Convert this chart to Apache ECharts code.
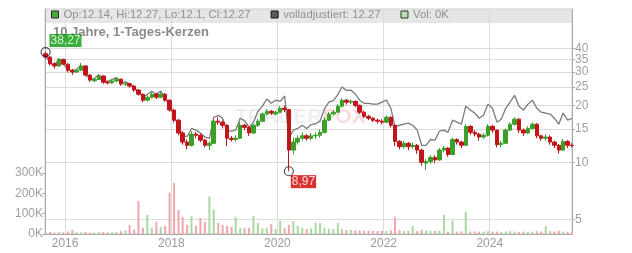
<!DOCTYPE html>
<html><head><meta charset="utf-8">
<script src="https://cdn.jsdelivr.net/npm/echarts@6.0.0/dist/echarts.min.js"></script>
<style>html,body{margin:0;padding:0;background:#fff}#c{width:632px;height:253px}</style>
</head><body><div id="c"></div>
<script>
var months = ['2015-08','2015-09','2015-10','2015-11','2015-12',
'2016-01','2016-02','2016-03','2016-04','2016-05','2016-06','2016-07','2016-08','2016-09','2016-10','2016-11','2016-12',
'2017-01','2017-02','2017-03','2017-04','2017-05','2017-06','2017-07','2017-08','2017-09','2017-10','2017-11','2017-12',
'2018-01','2018-02','2018-03','2018-04','2018-05','2018-06','2018-07','2018-08','2018-09','2018-10','2018-11','2018-12',
'2019-01','2019-02','2019-03','2019-04','2019-05','2019-06','2019-07','2019-08','2019-09','2019-10','2019-11','2019-12',
'2020-01','2020-02','2020-03','2020-04','2020-05','2020-06','2020-07','2020-08','2020-09','2020-10','2020-11','2020-12',
'2021-01','2021-02','2021-03','2021-04','2021-05','2021-06','2021-07','2021-08','2021-09','2021-10','2021-11','2021-12',
'2022-01','2022-02','2022-03','2022-04','2022-05','2022-06','2022-07','2022-08','2022-09','2022-10','2022-11','2022-12',
'2023-01','2023-02','2023-03','2023-04','2023-05','2023-06','2023-07','2023-08','2023-09','2023-10','2023-11','2023-12',
'2024-01','2024-02','2024-03','2024-04','2024-05','2024-06','2024-07','2024-08','2024-09','2024-10','2024-11','2024-12',
'2025-01','2025-02','2025-03','2025-04','2025-05','2025-06','2025-07'];

var opens = [37.5,36.0,33.2,32.3,35.0,33.0,30.7,30.0,30.7,32.3,
28.9,27.0,27.4,28.6,26.5,26.3,26.9,27.5,25.9,26.0,
25.3,24.1,22.9,21.3,22.1,22.9,22.1,22.9,21.3,18.9,
16.7,14.3,12.8,12.3,14.1,13.9,13.1,12.3,12.6,16.5,
16.3,15.7,13.4,13.2,13.4,15.7,15.3,14.3,15.7,16.5,
18.0,18.6,18.0,18.4,19.3,19.0,11.6,12.8,13.4,13.8,
13.4,13.8,13.9,14.4,16.7,18.0,18.4,19.8,21.3,20.8,
21.0,20.0,18.4,17.5,17.1,16.7,16.5,16.3,17.3,15.7,
12.9,12.1,12.6,12.1,12.3,11.6,9.9,10.1,10.6,10.3,
11.6,11.9,11.0,13.2,12.8,12.3,15.5,14.4,14.1,13.6,
13.9,15.5,14.8,12.4,12.6,14.8,15.9,16.9,14.8,14.3,
15.1,15.9,13.8,13.4,13.6,12.8,12.3,11.6,12.9,12.3];

var closes = [36.0,33.2,32.3,35.0,33.0,30.7,30.0,30.7,32.3,28.9,
27.2,27.4,28.6,26.5,26.3,26.9,27.5,25.9,26.0,25.3,
24.1,22.9,21.3,22.1,22.9,22.1,22.9,21.3,18.9,16.7,
14.3,12.8,12.3,14.1,13.9,13.1,12.3,12.6,16.5,16.3,
15.7,13.4,13.2,13.4,15.7,15.3,14.3,15.7,16.5,18.0,
18.6,18.2,18.4,19.3,19.0,11.6,12.8,13.4,13.8,13.4,
13.8,13.9,14.4,16.7,18.0,18.4,19.8,21.3,20.8,21.0,
20.0,18.4,17.5,17.1,16.7,16.5,16.3,17.3,15.7,12.9,
12.1,12.6,12.1,12.3,11.6,10.0,10.1,10.6,10.3,11.6,
11.9,11.0,13.2,12.8,12.3,15.5,14.4,14.1,13.6,13.9,
15.5,14.8,12.4,12.6,14.8,15.9,16.9,14.8,14.3,15.1,
15.9,13.8,13.4,13.6,12.8,12.3,11.6,12.9,12.3,12.27];

var lows = [35.2,32.5,31.2,32.0,32.6,29.8,29.0,29.6,30.4,28.4,
26.6,26.5,27.2,26.0,25.8,26.0,26.6,25.4,25.3,24.8,
23.6,22.5,20.8,21.0,21.7,21.6,21.8,20.9,18.5,16.2,
13.9,12.4,11.7,12.1,13.4,12.8,12.0,11.6,12.5,15.8,
15.1,12.2,12.9,12.9,13.3,14.8,13.8,14.1,15.4,16.3,
17.7,17.8,17.7,18.1,18.4,8.97,11.0,12.4,13.0,13.0,
13.1,13.3,13.5,14.2,16.5,17.7,18.2,19.5,20.2,20.3,
19.5,18.0,17.1,16.7,16.3,16.0,15.9,16.1,15.3,12.2,
11.7,11.8,11.6,11.8,11.1,9.6,9.1,9.8,9.9,10.2,
11.3,10.7,10.9,12.4,11.9,12.2,14.0,13.7,13.0,13.3,
13.7,14.3,12.0,12.0,12.5,14.6,15.6,14.3,13.8,14.1,
14.9,13.4,13.0,13.0,12.4,11.9,11.1,11.5,11.9,12.0];

var highs = [38.27,36.4,33.8,35.6,35.3,33.4,31.2,31.3,33.5,32.6,
29.2,27.9,29.3,28.8,27.0,27.6,28.1,27.7,26.6,26.3,
25.6,24.3,23.1,22.6,23.4,23.3,23.5,23.2,21.5,19.2,
16.9,14.6,13.2,14.6,14.5,14.2,13.3,12.9,16.9,17.3,
16.6,15.9,13.8,13.9,16.3,16.0,15.5,16.0,16.9,18.3,
19.1,18.9,18.8,19.8,19.9,19.1,13.5,13.9,14.4,14.1,
14.3,14.4,14.9,17.3,18.4,18.9,20.3,21.8,21.6,21.5,
21.2,20.2,18.7,17.8,17.3,17.0,16.9,17.7,17.5,15.9,
13.1,13.0,12.8,12.7,12.5,11.8,10.4,10.9,10.9,11.9,
12.2,12.0,13.5,13.4,13.0,15.9,15.7,14.8,14.3,14.3,
15.9,15.8,14.9,13.0,15.1,16.3,17.3,17.1,15.1,15.5,
16.3,16.1,14.0,14.1,13.9,13.0,12.5,13.3,13.1,12.6];

var adjusted = [36.8,33.4,32.5,35.2,33.2,30.9,30.2,30.9,32.6,29.2,
27.5,27.7,29.0,26.9,26.8,27.4,28.1,26.5,26.6,26.0,
24.8,23.7,22.0,22.9,23.7,22.9,23.8,22.2,19.6,17.6,
15.3,13.8,13.7,15.1,14.8,14.3,13.6,13.4,17.3,17.7,
17.1,14.6,14.6,14.8,17.1,16.6,15.3,16.3,18.6,19.8,
21.6,20.5,21.3,21.0,22.4,13.4,14.8,15.1,15.7,15.1,
15.8,16.0,16.5,19.2,20.8,21.2,22.8,25.0,24.0,24.1,
22.9,21.3,20.5,20.5,20.3,20.3,20.8,21.3,19.3,15.5,
15.7,15.9,16.1,15.7,14.8,12.3,12.3,13.2,13.1,14.6,
14.8,14.4,16.7,16.3,15.9,19.8,18.9,18.2,17.1,17.8,
20.3,19.3,16.3,16.9,19.3,20.8,22.6,19.8,18.9,20.3,
21.3,19.3,18.4,18.2,18.0,17.1,15.9,18.2,16.7,17.1];

var volumesK = [8,10,7,9,8,12,20,9,8,10,7,8,9,10,8,9,10,
14,18,44,22,162,30,94,30,60,35,40,203,
251,118,84,45,88,40,79,60,184,118,54,45,
40,35,84,30,28,30,89,54,28,30,49,25,
65,30,45,64,40,30,25,28,56,54,30,25,
25,54,25,20,20,18,18,16,15,15,15,15,
15,18,83,20,15,15,40,15,20,18,15,15,
15,94,12,66,12,12,110,12,12,12,12,14,
12,12,10,12,14,12,10,12,10,12,14,12,
39,14,12,15,12,12,10];

var priceTicks = [5,10,15,20,25,30,35,40];
var priceTicksA = [5,10,15,20,25,30,40];
var priceTicksB = [35];
var volumeTicks = [0,100000,200000,300000];
var yearTickDates = ['2016-01-01','2018-01-01','2020-01-01','2022-01-01','2024-01-01'];
var xRange = ['2015-08-16','2025-07-20'];

var legendNames = ['Op:12.14, Hi:12.27, Lo:12.1, Cl:12.27','volladjustiert: 12.27','Vol: 0K'];
var titleText = '10 Jahre, 1-Tages-Kerzen';

var UP = '#3c9f2a', DOWN = '#c4141b', VUP = '#a8d9a0', VDOWN = '#f0a6ad';

function ts(s){ return new Date(s + 'T00:00:00').getTime(); }
var times = months.map(function(m){ return ts(m + '-20'); });
var yearTicks = yearTickDates.map(ts);
var candleData = times.map(function(t,i){ return [t, opens[i], closes[i], lows[i], highs[i]]; });
var adjData = times.map(function(t,i){ return [t, adjusted[i]]; });
var volData = times.map(function(t,i){
  return { value: [t, volumesK[i]*1000], itemStyle: { color: closes[i] >= opens[i] ? VUP : VDOWN } };
});
var iMax = 0, iMin = 0;
for (var i = 0; i < highs.length; i++) { if (highs[i] > highs[iMax]) iMax = i; if (lows[i] < lows[iMin]) iMin = i; }
function fmt(v){ return v.toFixed(2).replace('.', ','); }

var PMIN = 4.18, PMAX = 64.6;
var chart = echarts.init(document.getElementById('c'), null, {renderer:'canvas'});
chart.setOption({
  animation: false,
  textStyle: { fontFamily: 'Liberation Sans, Arial, sans-serif' },
  grid: { left: 45, right: 60, top: 9, bottom: 19, show: true, borderColor: '#cfcfcf', borderWidth: 1 },
  graphic: [
    { type: 'rect', z: -1, shape: { x: 45, y: 9, width: 527, height: 14 }, style: { fill: '#e6e6e6' } },
    { type: 'text', z: -1, left: 235, top: 107, style: { text: '{a|TRADER}{b|FOX}', rich: {
        a: { fontSize: 21, fontWeight: 'bold', fill: '#efefef', fontFamily: 'Liberation Sans' },
        b: { fontSize: 21, fontWeight: 'bold', fill: '#f9dcdd', fontFamily: 'Liberation Sans' } } } }
  ],
  title: { text: titleText, left: 51, top: 24, padding: [2, 2, 2, 2], textStyle: { fontSize: 13, fontWeight: 'bold', color: '#8a8a8a', fontFamily: 'Liberation Sans' } },
  legend: {
    left: 51, top: 9, padding: 0, itemWidth: 7, itemHeight: 7, itemGap: 20, icon: 'rect', selectedMode: false,
    textStyle: { fontSize: 11.3, color: '#8f8f8f', fontFamily: 'Liberation Sans' },
    data: [
      { name: legendNames[0], itemStyle: { color: '#4aa83a', borderColor: '#2a2a2a', borderWidth: 1 } },
      { name: legendNames[1], itemStyle: { color: '#5a5a5a', borderColor: '#111', borderWidth: 1 } },
      { name: legendNames[2], itemStyle: { color: '#b6e2ae', borderColor: '#333', borderWidth: 1 } }
    ]
  },
  xAxis: {
    type: 'value', min: ts(xRange[0]), max: ts(xRange[1]), scale: true,
    axisLine: { lineStyle: { color: '#aaaaaa' } },
    axisTick: { show: false, customValues: yearTicks },
    axisLabel: { customValues: yearTicks, color: '#9a9a9a', fontSize: 12, margin: 4,
      formatter: function(v){ return String(new Date(v).getFullYear()); } },
    splitLine: { show: true, lineStyle: { color: '#dcdcdc', width: 1 } }
  },
  yAxis: [
    { type: 'log', logBase: 10, position: 'right', min: PMIN, max: PMAX,
      axisLine: { show: true, lineStyle: { color: '#aaaaaa' } },
      axisTick: { show: true, length: 3, customValues: priceTicks, lineStyle: { color: '#aaaaaa' } },
      axisLabel: { customValues: priceTicksA, hideOverlap: false, showMinLabel: true, showMaxLabel: true,
        color: '#a0a0a0', fontSize: 12, margin: 3 },
      splitLine: { show: true, lineStyle: { color: '#dcdcdc', width: 1 } } },
    { type: 'value', position: 'left', min: 0, max: 1108000,
      axisLine: { show: true, lineStyle: { color: '#aaaaaa' } },
      axisTick: { show: true, length: 3, customValues: volumeTicks, lineStyle: { color: '#aaaaaa' } },
      axisLabel: { customValues: volumeTicks, color: '#a0a0a0', fontSize: 12, margin: 2,
        formatter: function(v){ return (v/1000) + 'K'; } },
      splitLine: { show: false } },
    { type: 'log', logBase: 10, position: 'right', min: PMIN, max: PMAX,
      axisLine: { show: false }, axisTick: { show: false, customValues: priceTicksB },
      axisLabel: { customValues: priceTicksB, color: '#a0a0a0', fontSize: 12, margin: 3 },
      splitLine: { show: false } }
  ],
  series: [
    { name: legendNames[2], type: 'bar', yAxisIndex: 1, data: volData, barWidth: 2, z: 1, itemStyle: { color: VUP } },
    { name: legendNames[1], type: 'line', yAxisIndex: 0, data: adjData, showSymbol: false, symbol: 'none', z: 2,
      lineStyle: { color: '#7a7a7a', width: 1.3 }, itemStyle: { color: '#5a5a5a' } },
    { name: legendNames[0], type: 'candlestick', yAxisIndex: 0, data: candleData, barWidth: 4, z: 3,
      itemStyle: { color: UP, color0: DOWN, borderColor: UP, borderColor0: DOWN, borderWidth: 1 } },
    { type: 'scatter', yAxisIndex: 0, z: 10, symbol: 'circle', symbolSize: 9,
      itemStyle: { color: 'rgba(0,0,0,0)', borderColor: '#222', borderWidth: 1.2 },
      data: [
        { value: [times[iMax], highs[iMax]], label: { show: true, position: [9, -13], backgroundColor: '#0a9a0a',
            formatter: function(p){ return fmt(p.value[1]); } } },
        { value: [times[iMin], lows[iMin]], label: { show: true, position: [7, 9], backgroundColor: '#cc0000',
            formatter: function(p){ return fmt(p.value[1]); } } }
      ],
      label: { color: '#fff', fontSize: 12, lineHeight: 13, padding: [0, 1, 0, 1], fontFamily: 'Liberation Sans' }
    }
  ]
});
</script></body></html>
